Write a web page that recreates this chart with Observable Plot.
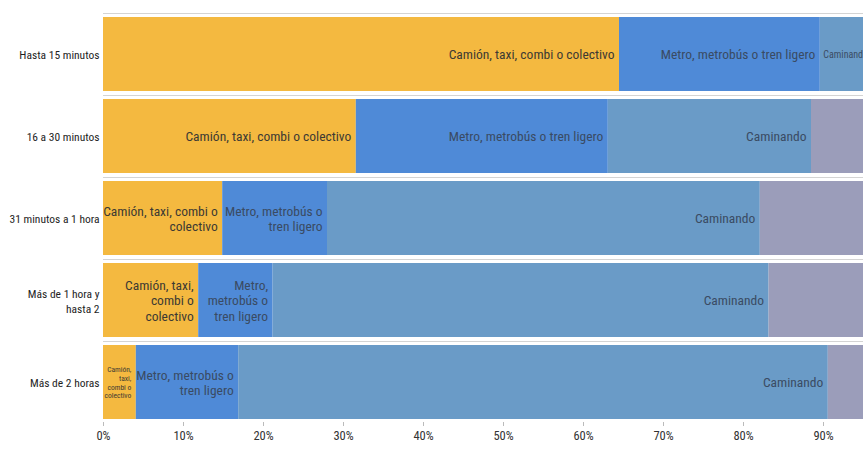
<!DOCTYPE html>
<html>
<head>
<meta charset="utf-8">
<script src="https://cdn.jsdelivr.net/npm/d3@7"></script>
<script src="https://cdn.jsdelivr.net/npm/@observablehq/plot@0.6"></script>
<style>
  html, body { margin: 0; padding: 0; background: #fff; overflow: hidden; }
  #chart svg { display: block; }
</style>
</head>
<body>
<div id="chart"></div>
<script>
// Categories (rows) and their axis labels
const rows = ["Hasta 15 minutos", "16 a 30 minutos", "31 minutos a 1 hora", "Más de 1 hora y hasta 2", "Más de 2 horas"];
const rowLabels = ["Hasta 15 minutos", "16 a 30 minutos", "31 minutos a 1 hora", "Más de 1 hora y\nhasta 2", "Más de 2 horas"];

// Transport modes (series)
const modes = ["Camión, taxi, combi o colectivo", "Metro, metrobús o tren ligero", "Caminando", "Otro"];

// Series values (% of trips)
const camion    = [64.5, 31.6, 14.9, 11.9, 4.1];
const metro     = [25.1, 31.5, 13.1, 9.3, 12.8];
const caminando = [6.6, 25.4, 54.1, 62.0, 73.7];
const otro      = [3.8, 11.5, 17.9, 16.8, 9.4];

// Segment label texts
const camionLabels = ["Camión, taxi, combi o colectivo", "Camión, taxi, combi o colectivo", "Camión, taxi, combi o\ncolectivo", "Camión, taxi,\ncombi o\ncolectivo", "Camión,\ntaxi,\ncombi o\ncolectivo"];
const metroLabels = ["Metro, metrobús o tren ligero", "Metro, metrobús o tren ligero", "Metro, metrobús o\ntren ligero", "Metro,\nmetrobús o\ntren ligero", "Metro, metrobús o\ntren ligero"];
const caminandoLabels = ["Caminando", "Caminando", "Caminando", "Caminando", "Caminando"];
const otroLabels = ["", "", "", "", ""];

// Axis ticks
const xTicks = [0, 10, 20, 30, 40, 50, 60, 70, 80, 90];

const colors = ["#F4B940", "#4F8AD7", "#6A9BC7", "#9B9DBA"];

const series = [camion, metro, caminando, otro];
const seriesLabels = [camionLabels, metroLabels, caminandoLabels, otroLabels];
const data = [];
rows.forEach((r, i) => {
  modes.forEach((m, j) => {
    data.push({row: r, mode: m, value: series[j][i], label: seriesLabels[j][i], order: j});
  });
});

const font = "'Roboto Condensed', 'Open Sans', sans-serif";

const chart = Plot.plot({
  width: 863,
  height: 454,
  marginLeft: 103,
  marginRight: 0,
  marginTop: 15,
  marginBottom: 32,
  style: {fontFamily: font, fontSize: "12px", color: "#222", background: "#fff"},
  x: {domain: [0, 95], ticks: xTicks, tickFormat: d => d + "%", label: null, tickSize: 4},
  y: {domain: rows, paddingInner: 0.096, paddingOuter: 0, label: null, tickSize: 0, tickPadding: 4,
      tickFormat: d => rowLabels[rows.indexOf(d)]},
  color: {domain: modes, range: colors},
  marks: [
    Plot.ruleY(rows, {y: d => d, x1: 0, x2: 95, dy: -41, stroke: "#d4d4d4", strokeWidth: 1}),
    Plot.barX(data, Plot.stackX({x: "value", y: "row", fill: "mode", order: "order", clip: true})),
    Plot.text(data, Plot.stackX2({
      x: "value", y: "row", z: "mode", order: "order", text: "label",
      textAnchor: "end", dx: -5, clip: true, lineHeight: 1.15,
      fontFamily: font,
      fontSize: d => d.value < 5 ? 7.5 : d.value < 8 ? 10 : 13.5,
      fill: d => d.order === 0 ? "#3d3a33" : "#3a4b63"
    })),
    Plot.axisX({ticks: xTicks, tickFormat: d => d + "%", tickSize: 4, stroke: "#bbb", fill: "#333", fontSize: 12.5, fontFamily: font, label: null}),
    Plot.axisY({tickSize: 0, tickPadding: 4, fontSize: 11.5, fontFamily: font, fill: "#1e1e1e", label: null, lineHeight: 1.35,
      tickFormat: d => rowLabels[rows.indexOf(d)]})
  ]
});
document.getElementById("chart").appendChild(chart);
</script>
</body>
</html>
